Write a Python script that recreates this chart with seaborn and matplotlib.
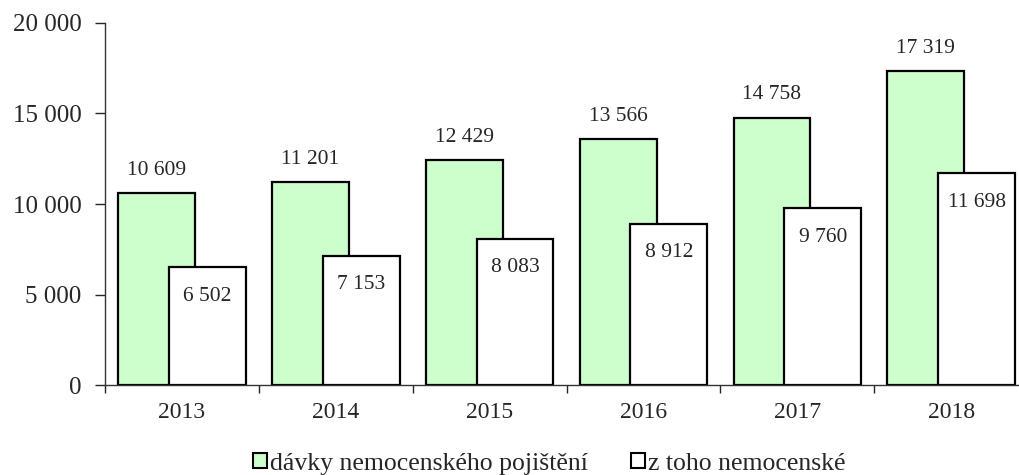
import numpy as np
import pandas as pd
import seaborn as sns
from matplotlib import pyplot as plt

roky = ["2013", "2014", "2015", "2016", "2017", "2018"]
davky = [10609, 11201, 12429, 13566, 14758, 17319]
nemocenske = [6502, 7153, 8083, 8912, 9760, 11698]
serie = ["dávky nemocenského pojištění", "z toho nemocenské"]
barvy = ["#CCFFCC", "#FFFFFF"]
y_ticks = [0, 5000, 10000, 15000, 20000]


def fmt(v):
    return "{:,}".format(int(v)).replace(",", " ")


def main():
    sns.set_style("ticks")
    plt.rcParams['font.family'] = ['Liberation Serif', 'DejaVu Serif']

    df = pd.DataFrame({
        "rok": roky * 2,
        "hodnota": davky + nemocenske,
        "serie": [serie[0]] * len(roky) + [serie[1]] * len(roky),
    })

    fig = plt.figure(figsize=(10.19, 4.75), dpi=100)
    ax = fig.add_axes([0.103, 0.189, 0.906, 0.763])
    sns.barplot(data=df, x="rok", y="hodnota", hue="serie", hue_order=serie,
                palette=barvy, width=1.0, edgecolor="black", linewidth=1.6,
                saturation=1, ax=ax, legend=True)

    # overlap the two bars within a group
    shift = 0.085
    for i, cont in enumerate(ax.containers):
        for p in cont.patches:
            p.set_x(p.get_x() + (shift if i == 0 else -shift))
            p.set_width(0.5)
            x = p.get_x() + p.get_width() / 2
            h = p.get_height()
            off = 16.5 if i == 0 else -21
            ax.annotate(fmt(h), (x, h), xytext=(0, off), textcoords="offset points",
                        ha="center", va="center", fontsize=15.5)

    ax.set_ylim(0, 20000)
    ax.set_xlim(-0.5, 5.5)
    ax.set_yticks(y_ticks)
    ax.set_yticklabels([fmt(v) for v in y_ticks], fontsize=18)
    ax.set_xticks(range(len(roky)))
    ax.set_xticklabels(roky, fontsize=17)
    ax.set_xticks(np.arange(-0.5, len(roky), 1.0), minor=True)
    ax.tick_params(axis="x", which="major", length=0, pad=12)
    ax.tick_params(axis="x", which="minor", length=6, width=1, direction="out")
    ax.tick_params(axis="y", length=7, width=1, pad=10)
    ax.set_xlabel("")
    ax.set_ylabel("")
    sns.despine(ax=ax, right=True, top=True)
    for s in ["left", "bottom"]:
        ax.spines[s].set_linewidth(1)
        ax.spines[s].set_color("#333333")

    ax.get_legend().remove()
    handles = [plt.Rectangle((0, 0), 1, 1, facecolor=c, edgecolor="black", linewidth=1.5) for c in barvy]
    fig.legend(handles, serie, loc="center", bbox_to_anchor=(0.539, 0.024), ncol=2,
               frameon=False, fontsize=18.5, handlelength=0.55, handleheight=0.55,
               handletextpad=0.12, columnspacing=1.65, borderaxespad=0, borderpad=0)

    plt.savefig("out.png", dpi=100)


if __name__ == '__main__':
    main()
